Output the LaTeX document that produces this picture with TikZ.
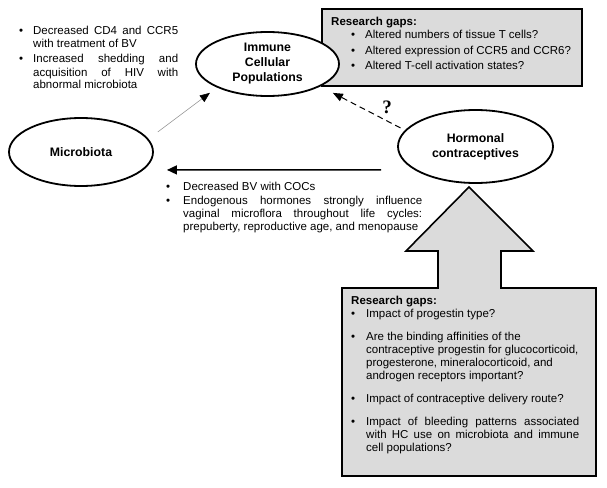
\documentclass[tikz,border=0pt]{standalone}
\usepackage{fontspec}
\setmainfont{Liberation Sans}
\newfontfamily\qfont{Liberation Serif}
\usetikzlibrary{shapes.geometric,arrows.meta}

\hyphenpenalty=10000
\tolerance=9000

% bullet line: offset of bullet, hanging indent, text
\newcommand{\bul}[3]{\noindent\hangindent=#2\hangafter=1\makebox[#2][l]{\hspace{#1}\textbullet}#3\par}

\tikzset{
  oval/.style={draw, ellipse, line width=1.8pt, fill=white, inner sep=0pt, align=center,
    font=\fontsize{12.3}{15}\selectfont\bfseries},
  notes/.style={anchor=base west, inner sep=0pt, align=justify, font=\fontsize{11.5}{13}\selectfont},
  gapfill/.style={draw, line width=1.6pt, fill=black!14},
}

\begin{document}
\begin{tikzpicture}[x=1pt, y=-1pt]
        \useasboundingbox (0,0) rectangle (607,487);

        % research gaps (top)
        \path[gapfill] (322,9) rectangle (582,86);
        \node[notes, text width=250pt] (gtop) at (331,26) {\textbf{Research gaps:}\par
            \bul{20pt}{34pt}{Altered numbers of tissue T cells?}\vspace{2.5pt}
            \bul{20pt}{34pt}{Altered expression of CCR5 and CCR6?}\vspace{2.5pt}
            \bul{20pt}{34pt}{Altered T-cell activation states?}};

        \node[oval, minimum width=143pt, minimum height=64pt] (imm) at (267.5,64) {Immune\\Cellular\\Populations};
        \node[oval, minimum width=144pt, minimum height=68pt] (mic) at (81,152) {Microbiota};
        \node[oval, minimum width=155pt, minimum height=73pt] (hc) at (475.5,146.5) {Hormonal\\contraceptives};

        % research gaps (bottom) with block arrow
        \path[gapfill] (342,288) -- (438,288) -- (438,251) -- (406,251) -- (469,187) -- (533,251)
            -- (501,251) -- (501,288) -- (596,288) -- (596,476) -- (342,476) -- cycle;
        \node[notes, text width=228pt] (gbot) at (351,304) {\textbf{Research gaps:}\par
            \bul{0pt}{15pt}{Impact of progestin type?}\vspace{10pt}
            \bul{0pt}{15pt}{Are the binding affinities of the\newline contraceptive progestin for glucocorticoid,\newline progesterone, mineralocorticoid, and\newline androgen receptors important?}\vspace{10pt}
            \bul{0pt}{15pt}{Impact of contraceptive delivery route?}\vspace{10pt}
            \bul{0pt}{15pt}{Impact of bleeding patterns associated\linebreak with HC use on microbiota and immune\linebreak cell populations?}};

        \node[notes, text width=159pt] (nmic) at (19,35) {%
            \bul{0pt}{14pt}{Decreased CD4 and CCR5\linebreak with treatment of BV}\vspace{2pt}
            \bul{0pt}{14pt}{Increased shedding and\linebreak acquisition of HIV with\linebreak abnormal microbiota}};
        \node[notes, text width=256pt] (nhc) at (166,190.5) {%
            \bul{0pt}{17pt}{Decreased BV with COCs}\vspace{0.5pt}
            \bul{0pt}{17pt}{Endogenous hormones strongly influence\linebreak vaginal microflora throughout life cycles:\linebreak prepuberty, reproductive age, and menopause}};

        \node[font=\qfont\bfseries\fontsize{19}{19}\selectfont] (q) at (387,107) {?};

        \draw[draw=black!40, line width=0.6pt, -{Triangle[length=10pt,width=8pt,color=black]},
            shorten <=11.5pt, shorten >=8.8pt] (mic.11) -- (imm.205);
        \draw[line width=1pt, dash pattern=on 6pt off 4pt, -{Triangle[length=10pt,width=8pt]},
            shorten <=5pt, shorten >=14pt] (hc.167) -- (imm.337);
        \draw[line width=1.6pt, -{Triangle[length=10pt,width=9pt]},
            shorten <=33.3pt, shorten >=23.4pt] (hc.201) -- (mic.344);
\end{tikzpicture}
\end{document}
